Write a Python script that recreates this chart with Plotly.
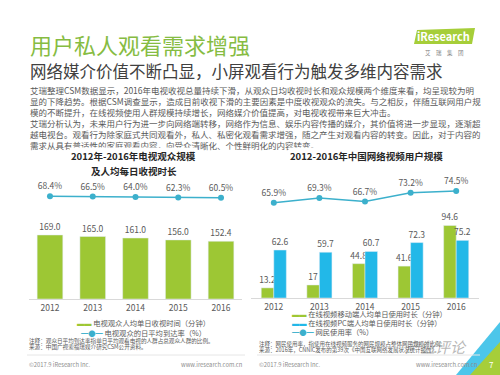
import plotly.graph_objects as go

# ---------------- data ----------------
years = ["2012", "2013", "2014", "2015", "2016"]
tv_minutes = [169.0, 165.0, 161.0, 156.0, 152.4]
tv_reach = [68.4, 66.5, 64.0, 62.3, 60.5]
mobile_minutes = [13.2, 17, 44.8, 41.6, 94.6]
pc_minutes = [62.6, 59.7, 60.7, 72.3, 75.2]
netizen_rate = [65.9, 69.3, 66.7, 73.2, 74.5]

W, H = 500, 375
FONT = "Noto Sans CJK SC"
GREEN = "#9dc734"
BLUE = "#22b8e8"
LINE = "#3cb0cc"
LABEL = "#595959"


def px(x):
    return x / W


def py(y):
    return 1 - y / H


fig = go.Figure()

# left chart
fig.add_trace(go.Bar(
    x=years, y=tv_minutes, xaxis="x", yaxis="y",
    marker=dict(color=GREEN), width=0.6, offset=-0.3,
    text=[f"{v:.1f}" for v in tv_minutes], textposition="outside",
    textfont=dict(size=8.5, color=LABEL, family=FONT),
    cliponaxis=False, constraintext="none", showlegend=False,
))
fig.add_trace(go.Scatter(
    x=years, y=tv_reach, xaxis="x", yaxis="y2",
    mode="lines+markers+text",
    line=dict(color=LINE, width=1.5), marker=dict(color=LINE, size=6),
    text=[f"{v:.1f}%" for v in tv_reach], textposition="top center",
    textfont=dict(size=8.5, color=LABEL, family=FONT),
    cliponaxis=False, showlegend=False,
))

# right chart
fig.add_trace(go.Bar(
    x=years, y=mobile_minutes, xaxis="x2", yaxis="y3",
    marker=dict(color=GREEN), width=0.275, offset=-0.275,
    text=[str(v) for v in mobile_minutes], textposition="outside",
    textfont=dict(size=8.5, color=LABEL, family=FONT),
    cliponaxis=False, constraintext="none", showlegend=False,
))
fig.add_trace(go.Bar(
    x=years, y=pc_minutes, xaxis="x2", yaxis="y3",
    marker=dict(color=BLUE), width=0.275, offset=0,
    text=[str(v) for v in pc_minutes], textposition="outside",
    textfont=dict(size=8.5, color=LABEL, family=FONT),
    cliponaxis=False, constraintext="none", showlegend=False,
))
fig.add_trace(go.Scatter(
    x=years, y=netizen_rate, xaxis="x2", yaxis="y4",
    mode="lines+markers+text",
    line=dict(color=LINE, width=1.5), marker=dict(color=LINE, size=6),
    text=[f"{v:.1f}%" for v in netizen_rate], textposition="top center",
    textfont=dict(size=8.5, color=LABEL, family=FONT),
    cliponaxis=False, showlegend=False,
))

xcommon = dict(type="category", showline=True, linecolor="#d9d9d9", linewidth=1,
               ticks="", showgrid=False, zeroline=False, ticklabelstandoff=1,
               tickfont=dict(size=8.5, color=LABEL, family=FONT))

fig.update_layout(
    width=W, height=H,
    margin=dict(l=0, r=0, t=0, b=0),
    paper_bgcolor="white", plot_bgcolor="rgba(0,0,0,0)",
    barmode="overlay",
    font=dict(family=FONT, color=LABEL),
    xaxis=dict(domain=[px(28.6), px(242.4)], anchor="y", **xcommon),
    yaxis=dict(domain=[py(299), py(170)], range=[0, 340.6], visible=False, anchor="x"),
    yaxis2=dict(range=[-410, 190], overlaying="y", anchor="x", visible=False),
    xaxis2=dict(domain=[px(251), px(479)], anchor="y3", **xcommon),
    yaxis3=dict(domain=[py(298), py(170)], range=[0, 167], visible=False, anchor="x2"),
    yaxis4=dict(range=[-4.1, 89.9], overlaying="y3", anchor="x2", visible=False),
    showlegend=False,
)

ann = []


def text(x, y, s, size, color=LABEL, xanchor="left", bold=False, **kw):
    if bold:
        s = f"<b>{s}</b>"
    ann.append(dict(x=px(x), y=py(y), xref="paper", yref="paper", text=s,
                    showarrow=False, xanchor=xanchor, yanchor="middle",
                    font=dict(size=size, color=color, family=FONT), **kw))


text(28, 44, "用户私人观看需求增强", 22, color="#86bc42")
text(28, 71, "网络媒介价值不断凸显，小屏观看行为触发多维内容需求", 16.5, color="#404040")

body = [
    "艾瑞整理CSM数据显示，2016年电视收视总量持续下滑，从观众日均收视时长和观众规模两个维度来看，均呈现较为明",
    "显的下降趋势。根据CSM调查显示，造成目前收视下滑的主要因素是中度收视观众的流失。与之相反，伴随互联网用户规",
    "模的不断提升，在线视频使用人群规模持续增长，网络媒介价值提高，对电视收视带来巨大冲击。",
    "艾瑞分析认为，未来用户行为进一步向网络端转移，网络作为信息、娱乐内容传播的媒介，其价值将进一步显现，逐渐超",
    "越电视台。观看行为除家庭式共同观看外，私人、私密化观看需求增强，随之产生对观看内容的转变。因此，对于内容的",
    "需求从具有普适性的家庭观看内容，向受众清晰化、个性鲜明化的内容转变。",
]
for i, line in enumerate(body):
    text(28, 90 + 11 * i, line, 8.5, color="#595959")

# chart titles (white background covers the last body line like the source)
text(133, 156, "2012年-2016年电视观众规模", 9.5, color="#262626", xanchor="center", bold=True,
     bgcolor="white")
text(134, 171, "及人均每日收视时长", 9.5, color="#262626", xanchor="center", bold=True)
text(366, 156, "2012-2016年中国网络视频用户规模", 9.5, color="#262626", xanchor="center", bold=True,
     bgcolor="white")

# legends (text based)
g = f"<span style='color:{GREEN}'>▬▬</span>"
b = f"<span style='color:{BLUE}'>▬▬</span>"
l = f"<span style='color:{LINE}'>━●━</span>"
text(75, 323, g + " 电视观众人均单日收视时间（分钟）", 7.3)
text(79, 333, l + " 电视观众的日平均到达率（%）", 7.3)
text(290, 314, g + " 在线视频移动端人均单日使用时长（分钟）", 7.3)
text(290, 323, b + " 在线视频PC端人均单日使用时长（分钟）", 7.3)
text(290, 332, l + " 网民使用率（%）", 7.3)

# footnotes
text(27, 341, "注释：观众日平均到达率指单日平均观看电视的人群占总观众人群的比例。", 5.6)
text(27, 347, "来源：中国广视索福瑞媒介研究CSM公开资料。", 5.6)
text(257, 344, "注释：网民使用率，指使用在线视频服务的网民规模占整体网民规模的比例。", 5.5)
text(257, 350, "来源：2016年，CNNIC发布的第39次《中国互联网络发展状况统计报告》。", 5.5)

text(27, 364, "©2017.9 iResearch Inc.", 5.8, color="#8c8c8c")
text(245, 364, "www.iresearch.com.cn", 5.8, color="#8c8c8c", xanchor="right")
text(257, 364, "©2017.9 iResearch Inc.", 5.8, color="#8c8c8c")
text(480, 364, "www.iresearch.com.cn", 5.8, color="#8c8c8c", xanchor="right")

# watermark
text(436, 346, "<i>产业评论</i>", 15, color="rgba(110,110,110,0.5)", xanchor="center")

# logo
text(443, 36, "<b>iResearch</b>", 11, color="white", xanchor="center")
text(444, 53, "艾　瑞　集　团", 5.5, color="#7f7f7f", xanchor="center")

# page number
text(491, 364, "7", 8, color="white", xanchor="center")

fig.update_layout(annotations=ann)

shapes = [
    # logo background (parallelogram)
    dict(type="path", xref="paper", yref="paper",
         path=f"M {px(414)} {py(44)} L {px(472)} {py(44)} L {px(475)} {py(28)} L {px(417)} {py(30)} Z",
         fillcolor="#a6ce39", line=dict(width=0), layer="below"),
    # footer separators
    dict(type="line", xref="paper", yref="paper", x0=px(27), x1=px(245), y0=py(355), y1=py(355),
         line=dict(color="#e6e6e6", width=1)),
    dict(type="line", xref="paper", yref="paper", x0=px(257), x1=px(480), y0=py(355), y1=py(355),
         line=dict(color="#e6e6e6", width=1)),
    # corner decoration
    dict(type="path", xref="paper", yref="paper",
         path=f"M {px(500)} {py(322)} L {px(500)} {py(375)} L {px(456)} {py(375)} Z",
         fillcolor="#4cc6ea", line=dict(width=0), layer="below"),
    dict(type="path", xref="paper", yref="paper",
         path=f"M {px(500)} {py(342)} L {px(500)} {py(375)} L {px(470)} {py(375)} Z",
         fillcolor="#a6ce39", line=dict(width=0), layer="below"),
]
fig.update_layout(shapes=shapes)

# remove the browser's default 8px body margin so the figure sits at the page origin
fig.write_html("out.html", config={"displayModeBar": False},
               post_script="document.body.style.margin='0';")
